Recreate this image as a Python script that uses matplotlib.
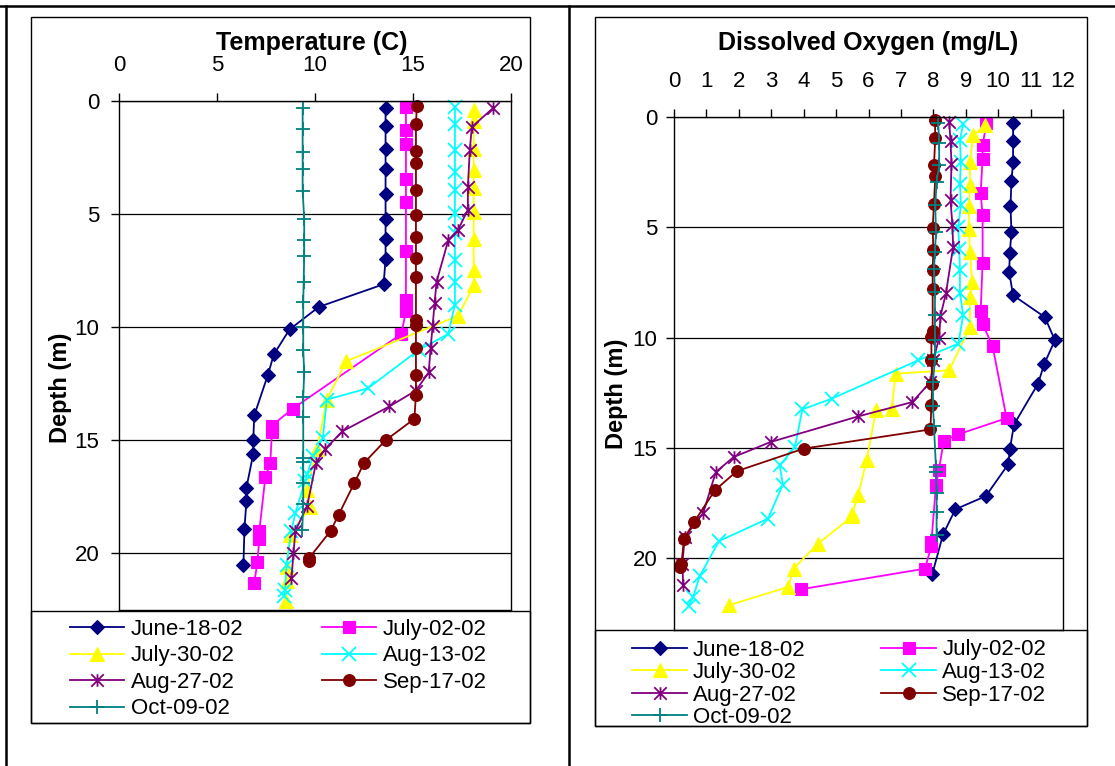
import matplotlib
matplotlib.use('Agg')
import matplotlib.pyplot as plt
from matplotlib.path import Path
from matplotlib.lines import Line2D
from matplotlib.patches import Rectangle

plt.rcParams['font.family'] = ['Liberation Sans', 'DejaVu Sans']

# ---------------- data ----------------
dates = ['June-18-02', 'July-02-02', 'July-30-02', 'Aug-13-02',
         'Aug-27-02', 'Sep-17-02', 'Oct-09-02']

# Temperature profiles (depth m, temperature C)
t_depth_jun18 = [0.3, 1.1, 2.1, 3.0, 4.1, 5.2, 6.1, 7.0, 8.1, 9.1, 10.1, 11.2, 12.1, 13.9, 15.0, 15.6, 17.1, 17.7, 18.9, 20.5]
t_jun18 = [13.6, 13.6, 13.6, 13.6, 13.6, 13.6, 13.6, 13.6, 13.5, 10.2, 8.7, 7.9, 7.6, 6.9, 6.85, 6.85, 6.5, 6.5, 6.4, 6.35]

t_depth_jul02 = [0.25, 1.3, 1.9, 3.45, 4.45, 6.65, 8.8, 9.3, 10.3, 13.6, 14.35, 14.65, 16.0, 16.6, 19.0, 19.35, 20.4, 21.3]
t_jul02 = [14.64, 14.64, 14.64, 14.64, 14.64, 14.64, 14.64, 14.64, 14.4, 8.86, 7.8, 7.8, 7.72, 7.47, 7.16, 7.16, 7.06, 6.9]

t_depth_jul30 = [0.4, 0.9, 2.1, 3.05, 3.85, 4.9, 6.1, 7.45, 8.15, 9.5, 11.5, 13.2, 15.4, 17.2, 17.95, 19.2, 20.6, 21.2, 22.1]
t_jul30 = [18.1, 18.1, 18.1, 18.1, 18.1, 18.1, 18.1, 18.1, 18.1, 17.3, 11.6, 10.6, 10.1, 9.57, 9.74, 8.7, 8.55, 8.55, 8.5]

t_depth_aug13 = [0.25, 1.0, 2.15, 3.15, 3.95, 4.95, 5.85, 7.05, 8.0, 9.0, 10.3, 11.0, 12.7, 13.2, 14.9, 15.7, 16.5, 16.8, 18.2, 19.0, 20.5, 21.6, 21.9]
t_aug13 = [17.14, 17.14, 17.14, 17.14, 17.14, 17.14, 17.14, 17.14, 17.14, 17.14, 16.8, 15.3, 12.7, 10.6, 10.4, 9.9, 9.6, 9.5, 9.0, 8.8, 8.55, 8.47, 8.4]

t_depth_aug27 = [0.3, 1.15, 2.15, 3.8, 4.8, 5.7, 6.15, 8.0, 8.95, 9.95, 10.9, 12.0, 12.8, 13.5, 14.6, 15.4, 16.0, 17.9, 19.0, 20.0, 21.1]
t_aug27 = [19.1, 18.0, 17.9, 17.8, 17.8, 17.3, 16.8, 16.2, 16.1, 16.0, 15.9, 15.8, 15.15, 13.8, 11.4, 10.5, 10.05, 9.6, 9.0, 8.9, 8.8]

t_depth_sep17 = [0.2, 1.0, 2.2, 2.75, 3.95, 5.05, 6.0, 6.95, 7.8, 9.7, 9.9, 10.9, 12.1, 13.0, 14.05, 15.0, 16.0, 16.9, 18.3, 19.0, 20.2, 20.35]
t_sep17 = [15.2, 15.15, 15.15, 15.15, 15.15, 15.15, 15.15, 15.15, 15.15, 15.15, 15.15, 15.15, 15.15, 15.15, 15.07, 13.6, 12.5, 12.0, 11.2, 10.8, 9.7, 9.7]

t_depth_oct09 = [0.3, 1.25, 2.25, 3.0, 4.0, 5.2, 6.15, 6.85, 8.0, 8.9, 10.0, 11.0, 12.0, 13.1, 13.95, 15.8, 15.95, 16.9, 17.8, 18.95]
t_oct09 = [9.37, 9.37, 9.37, 9.37, 9.37, 9.45, 9.45, 9.45, 9.42, 9.4, 9.4, 9.4, 9.45, 9.4, 9.4, 9.4, 9.4, 9.4, 9.4, 9.35]

# Dissolved oxygen profiles (depth m, DO mg/L)
o_depth_jun18 = [0.27, 1.09, 2.04, 2.9, 4.05, 5.2, 6.17, 7.03, 8.08, 9.07, 10.12, 11.2, 12.09, 13.93, 15.06, 15.74, 17.18, 17.78, 18.92, 20.7]
o_jun18 = [10.46, 10.46, 10.46, 10.41, 10.38, 10.41, 10.36, 10.34, 10.46, 11.44, 11.75, 11.42, 11.23, 10.49, 10.36, 10.31, 9.62, 8.68, 8.3, 7.97]

o_depth_jul02 = [0.27, 1.28, 1.89, 3.44, 4.46, 6.62, 8.8, 9.37, 10.4, 13.65, 14.38, 14.69, 16.0, 16.7, 19.27, 19.45, 20.47, 21.4]
o_jul02 = [9.64, 9.52, 9.52, 9.46, 9.52, 9.52, 9.46, 9.52, 9.83, 10.26, 8.77, 8.32, 8.17, 8.08, 7.94, 7.94, 7.74, 3.93]

o_depth_jul30 = [0.38, 0.83, 2.04, 3.1, 4.05, 5.06, 6.12, 7.48, 8.16, 9.52, 11.48, 11.63, 13.25, 13.3, 15.56, 17.15, 17.98, 18.1, 19.34, 20.47, 21.3, 22.13]
o_jul30 = [9.59, 9.23, 9.13, 9.13, 9.1, 9.1, 9.13, 9.2, 9.13, 9.13, 8.49, 6.84, 6.71, 6.23, 5.94, 5.68, 5.5, 5.5, 4.44, 3.69, 3.52, 1.69]

o_depth_aug13 = [0.3, 1.06, 2.04, 3.02, 4.0, 4.99, 5.97, 6.95, 7.98, 8.99, 10.27, 11.03, 12.77, 13.25, 14.96, 15.79, 16.66, 18.2, 19.22, 20.82, 21.76, 22.14]
o_aug13 = [8.92, 8.82, 8.85, 8.82, 8.85, 8.77, 8.8, 8.82, 8.82, 8.92, 8.77, 7.53, 4.86, 3.96, 3.73, 3.26, 3.36, 2.9, 1.39, 0.79, 0.59, 0.45]

o_depth_aug27 = [0.23, 1.09, 2.11, 3.78, 4.91, 5.89, 7.98, 9.03, 10.0, 11.03, 12.01, 12.92, 13.57, 14.73, 15.41, 16.09, 17.95, 19.04, 20.24, 21.23]
o_aug27 = [8.49, 8.53, 8.56, 8.53, 8.59, 8.61, 8.39, 8.22, 8.18, 8.0, 7.91, 7.35, 5.68, 2.98, 1.84, 1.29, 0.9, 0.33, 0.26, 0.28]

o_depth_sep17 = [0.15, 0.94, 2.19, 2.69, 3.93, 5.01, 6.04, 6.92, 7.78, 9.7, 9.97, 11.0, 12.09, 13.07, 14.16, 15.03, 16.05, 16.92, 18.36, 19.11, 20.24, 20.4]
o_sep17 = [8.05, 8.06, 8.02, 8.06, 8.02, 7.98, 8.0, 7.98, 7.98, 7.98, 7.94, 7.94, 7.97, 7.94, 7.91, 4.0, 1.94, 1.26, 0.62, 0.31, 0.23, 0.2]

o_depth_oct09 = [0.27, 1.18, 2.19, 2.95, 4.0, 5.21, 6.12, 6.87, 7.93, 8.96, 10.09, 10.95, 12.01, 13.11, 14.02, 15.86, 16.09, 17.03, 17.9, 18.96]
o_oct09 = [8.15, 8.18, 8.18, 8.1, 8.06, 8.08, 8.05, 8.02, 8.05, 8.05, 8.05, 8.05, 7.99, 7.99, 8.02, 8.08, 8.08, 8.1, 8.1, 8.1]

temp_ticks = [0, 5, 10, 15, 20]
do_ticks = list(range(0, 13))
depth_ticks = [0, 5, 10, 15, 20]

# ---------------- styles ----------------
asterisk = Path([(0, -0.5), (0, 0.5), (-0.5, -0.5), (0.5, 0.5), (-0.5, 0.5), (0.5, -0.5)],
                [Path.MOVETO, Path.LINETO] * 3)
styles = [
    dict(color='#000080', marker='D', ms=7.0, mew=0.8, mfc='#000080'),
    dict(color='#FF00FF', marker='s', ms=8.5, mew=0.8, mfc='#FF00FF'),
    dict(color='#FFFF00', marker='^', ms=9.5, mew=0.8, mfc='#FFFF00'),
    dict(color='#00FFFF', marker='x', ms=9.5, mew=1.3),
    dict(color='#800080', marker=asterisk, ms=9.0, mew=1.3),
    dict(color='#800000', marker='o', ms=8.5, mew=0.8, mfc='#800000'),
    dict(color='#008080', marker='+', ms=10.0, mew=1.3),
]

temp_series = [(t_depth_jun18, t_jun18), (t_depth_jul02, t_jul02), (t_depth_jul30, t_jul30),
               (t_depth_aug13, t_aug13), (t_depth_aug27, t_aug27), (t_depth_sep17, t_sep17),
               (t_depth_oct09, t_oct09)]
do_series = [(o_depth_jun18, o_jun18), (o_depth_jul02, o_jul02), (o_depth_jul30, o_jul30),
             (o_depth_aug13, o_aug13), (o_depth_aug27, o_aug27), (o_depth_sep17, o_sep17),
             (o_depth_oct09, o_oct09)]

W, H = 1115, 766
fig = plt.figure(figsize=(W / 100, H / 100), dpi=100)


def fx(px):
    return px / W


def fy(py):
    return 1 - py / H


def add_box(x0, y0, x1, y1, lw=1.0):
    fig.add_artist(Rectangle((fx(x0), fy(y1)), fx(x1) - fx(x0), fy(y0) - fy(y1),
                             transform=fig.transFigure, fill=False, ec='black', lw=lw))


def setup(ax, xmax, xticks, ymax, ypad):
    ax.set_xlim(0, xmax)
    ax.set_ylim(ymax, 0)
    ax.set_xticks(xticks)
    ax.set_yticks(depth_ticks)
    ax.xaxis.tick_top()
    ax.tick_params(axis='x', direction='out', length=6, width=1, pad=12, labelsize=16,
                   top=True, bottom=False, labeltop=True, labelbottom=False)
    ax.tick_params(axis='y', direction='out', length=6, width=1, pad=ypad, labelsize=16)
    ax.yaxis.grid(True, color='black', lw=0.9)
    ax.set_axisbelow(True)
    for s in ax.spines.values():
        s.set_color('black')
        s.set_linewidth(1.0)


ax1 = fig.add_axes([fx(119), fy(610), fx(511) - fx(119), fy(101) - fy(610)])
ax2 = fig.add_axes([fx(674), fy(630), fx(1063) - fx(674), fy(117) - fy(630)])
setup(ax1, 20, temp_ticks, 22.5, 8)
setup(ax2, 12, do_ticks, 23.25, 6)

h1, h2 = [], []
for (d, v), st, name in zip(temp_series, styles, dates):
    ln, = ax1.plot(v, d, lw=1.3, label=name, clip_on=False, **st)
    h1.append(ln)
for (d, v), st, name in zip(do_series, styles, dates):
    ln, = ax2.plot(v, d, lw=1.3, label=name, clip_on=False, **st)
    h2.append(ln)

order = [0, 2, 4, 6, 1, 3, 5]

fig.legend([h1[i] for i in order], [dates[i] for i in order], loc='upper left',
           bbox_to_anchor=(fx(70), fy(619)), ncol=2, frameon=False, fontsize=16,
           borderpad=0, borderaxespad=0, handlelength=2.43, handletextpad=0.32,
           columnspacing=3.5, labelspacing=0.245, numpoints=1)
fig.legend([h2[i] for i in order], [dates[i] for i in order], loc='upper left',
           bbox_to_anchor=(fx(632), fy(639.5)), ncol=2, frameon=False, fontsize=16,
           borderpad=0, borderaxespad=0, handlelength=2.48, handletextpad=0.27,
           columnspacing=3.4, labelspacing=0.07, numpoints=1)

# titles and axis labels
fig.text(fx(312), fy(43), 'Temperature (C)', ha='center', va='center', fontsize=18, fontweight='bold')
fig.text(fx(868), fy(43), 'Dissolved Oxygen (mg/L)', ha='center', va='center', fontsize=18, fontweight='bold')
fig.text(fx(60), fy(388), 'Depth (m)', rotation=90, ha='center', va='center', fontsize=17, fontweight='bold')
fig.text(fx(617), fy(394), 'Depth (m)', rotation=90, ha='center', va='center', fontsize=17, fontweight='bold')

# chart boxes and legend boxes
add_box(31, 17, 530, 723)
add_box(31, 611, 530, 723)
add_box(594.5, 17, 1086.5, 726)
add_box(594.5, 630, 1086.5, 726)

# outer table lines
fig.add_artist(Line2D([0, 1], [fy(6), fy(6)], transform=fig.transFigure, color='black', lw=1.8))
fig.add_artist(Line2D([fx(6), fx(6)], [0, fy(6)], transform=fig.transFigure, color='black', lw=1.8))
fig.add_artist(Line2D([fx(569), fx(569)], [0, fy(6)], transform=fig.transFigure, color='black', lw=1.8))

fig.savefig('out.png', dpi=100)
